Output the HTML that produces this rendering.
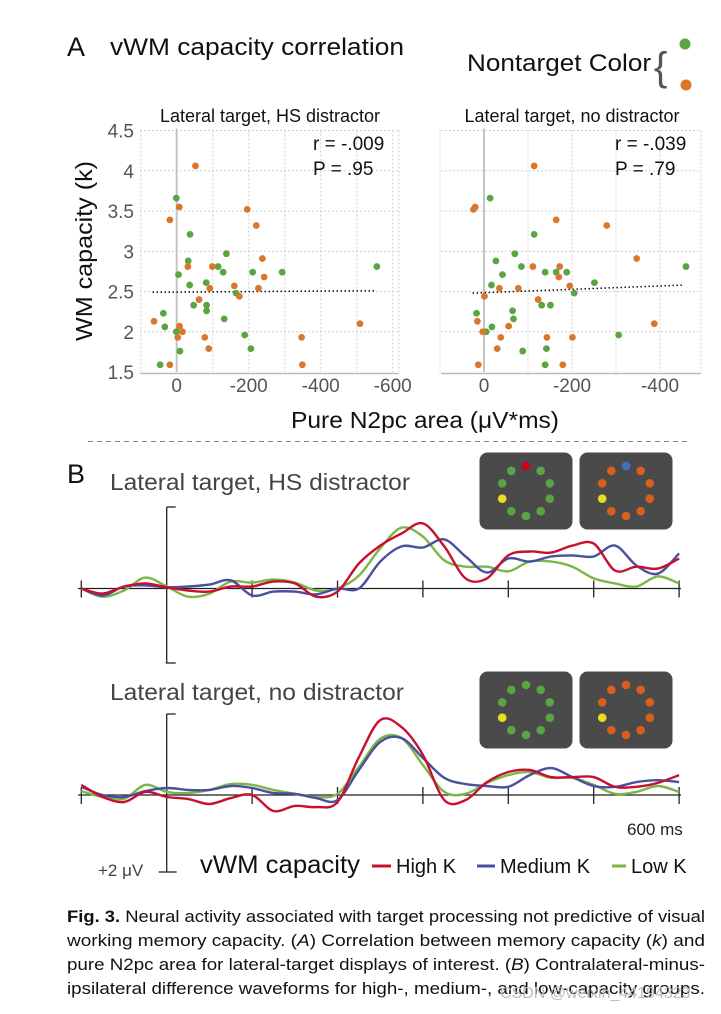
<!DOCTYPE html>
<html><head><meta charset="utf-8"><style>
html,body{margin:0;padding:0;background:#fff;}
body{width:721px;height:1009px;overflow:hidden;font-family:"Liberation Sans Narrow","Liberation Sans",sans-serif;}
svg text{font-family:"Liberation Sans Narrow","Liberation Sans",sans-serif;}
</style></head><body>
<svg id="fig" width="721" height="1009" viewBox="0 0 721 1009" xmlns="http://www.w3.org/2000/svg">
<text x="67" y="56" font-size="27" fill="#111">A</text>
<text x="110" y="55" font-size="24" fill="#111" textLength="294" lengthAdjust="spacingAndGlyphs">vWM capacity correlation</text>
<text x="467" y="71" font-size="24" fill="#111" textLength="184" lengthAdjust="spacingAndGlyphs">Nontarget Color</text>
<text x="654" y="80" font-size="40" fill="#555" font-family="Liberation Sans">{</text>
<circle cx="685" cy="44" r="5.5" fill="#5aa443"/>
<circle cx="686" cy="85" r="5.5" fill="#d9782d"/>
<g id="scatter"></g>
<text transform="translate(92,251) rotate(-90)" text-anchor="middle" font-size="23" fill="#111" textLength="180" lengthAdjust="spacingAndGlyphs">WM capacity (k)</text>
<text x="425" y="428" text-anchor="middle" font-size="23" fill="#111" textLength="268" lengthAdjust="spacingAndGlyphs">Pure N2pc area (μV*ms)</text>
<line x1="88" y1="441.5" x2="690" y2="441.5" stroke="#888" stroke-width="1" stroke-dasharray="5,4"/>
<text x="67" y="483" font-size="27" fill="#111">B</text>
<text x="110" y="490" font-size="23" fill="#444" textLength="300" lengthAdjust="spacingAndGlyphs">Lateral target, HS distractor</text>
<text x="110" y="700" font-size="23" fill="#444" textLength="294" lengthAdjust="spacingAndGlyphs">Lateral target, no distractor</text>
<g id="waves"></g>
<g id="icons"></g>
<text x="627" y="835" font-size="17" fill="#222">600 ms</text>
<text x="98" y="876" font-size="17" fill="#444">+2 μV</text>
<text x="200" y="873" font-size="25" fill="#111" textLength="160" lengthAdjust="spacingAndGlyphs">vWM capacity</text>
<line x1="372" y1="866" x2="391" y2="866" stroke="#c8102e" stroke-width="3"/>
<text x="396" y="873" font-size="20" fill="#111">High K</text>
<line x1="477" y1="866" x2="495" y2="866" stroke="#4a4fa0" stroke-width="3"/>
<text x="500" y="873" font-size="20" fill="#111">Medium K</text>
<line x1="612" y1="866" x2="626" y2="866" stroke="#7ab648" stroke-width="3"/>
<text x="631" y="873" font-size="20" fill="#111">Low K</text>
<g font-size="16.5" fill="#111">
<text x="67" y="922" textLength="638" lengthAdjust="spacingAndGlyphs"><tspan font-weight="bold">Fig. 3.</tspan>   Neural activity associated with target processing not predictive of visual</text>
<text x="67" y="946" textLength="638" lengthAdjust="spacingAndGlyphs">working memory capacity. (<tspan font-style="italic">A</tspan>) Correlation between memory capacity (<tspan font-style="italic">k</tspan>) and</text>
<text x="67" y="970" textLength="638" lengthAdjust="spacingAndGlyphs">pure N2pc area for lateral-target displays of interest. (<tspan font-style="italic">B</tspan>) Contralateral-minus-</text>
<text x="67" y="994" textLength="638" lengthAdjust="spacingAndGlyphs">ipsilateral difference waveforms for high-, medium-, and low-capacity groups.</text>
</g>
<text x="500" y="998" font-size="16" fill="#bbb" font-family="Liberation Sans">CSDN @weixin_44194323</text>
</svg>
<script>
// ---------- Scatter data ----------
const yTicks = [1.5, 2, 2.5, 3, 3.5, 4, 4.5];
const yTickLabels = ["1.5", "2", "2.5", "3", "3.5", "4", "4.5"];
const leftXTicks = [0, -200, -400, -600];
const rightXTicks = [0, -200, -400];
const leftOrangeX = [-52,-7,19,-196,-221,-31,-99,-238,-243,-160,-227,-92,-174,-62,63,-8,-16,-3,-78,-89,-347,-509,-349,19];
const leftOrangeY = [4.06,3.55,3.39,3.52,3.32,2.81,2.81,2.91,2.68,2.57,2.54,2.54,2.44,2.40,2.13,2.07,2.0,1.93,1.93,1.79,1.93,2.1,1.59,1.59];
const leftGreenX = [1,-37,-138,-32,-115,-129,-211,-293,-556,-5,-36,-82,-165,-47,-83,-83,37,-132,33,1,-189,-9,-206,46];
const leftGreenY = [3.66,3.21,2.97,2.88,2.81,2.74,2.74,2.74,2.81,2.71,2.58,2.61,2.48,2.33,2.33,2.26,2.23,2.16,2.06,2.0,1.96,1.76,1.79,1.59];
const rightOrangeX = [-114,24,20,-164,-279,-347,-111,-172,-170,-195,-35,-78,-1,-123,15,-56,3,-38,-143,-201,-30,-387,13,-179];
const rightOrangeY = [4.06,3.52,3.55,3.39,3.32,2.91,2.81,2.81,2.68,2.57,2.54,2.54,2.44,2.40,2.13,2.07,2.0,1.93,1.93,1.93,1.79,2.1,1.59,1.59];
const rightGreenX = [-14,-114,-70,-27,-85,-139,-164,-188,-459,-42,-17,-251,-205,-131,-151,-65,17,-67,-18,-5,-306,-88,-142,-139];
const rightGreenY = [3.66,3.21,2.97,2.88,2.81,2.74,2.74,2.74,2.81,2.71,2.58,2.61,2.48,2.33,2.33,2.26,2.23,2.16,2.06,2.0,1.96,1.76,1.79,1.59];
const leftFitX = [67, -550];
const leftFitY = [2.49, 2.51];
const rightFitX = [26, -454];
const rightFitY = [2.48, 2.58];
const stats = [["r = -.009", "P = .95"], ["r = -.039", "P = .79"]];

// ---------- Waveform data (μV, negative up) ----------
const times = [-100,-75,-50,-25,0,25,50,75,100,125,150,175,200,225,250,275,300,325,350,375,400,425,450,475,500,525,550,575,600];
const timeTicks = [-100,0,100,200,300,400,500,600];
const hsHighK = [0,.13,-.05,-.13,-.03,.05,.08,-.05,-.05,-.18,-.13,.21,.08,-.64,-1.10,-1.41,-1.67,-1.08,-.26,-.26,-.85,-.95,-.92,-1.10,-1.15,-.46,-.56,-.51,-.77];
const hsMediumK = [0,.18,-.05,-.08,-.03,-.05,-.10,-.21,.18,.08,.08,.15,0,0,-.69,-1.08,-1.05,-1.26,-.82,-.41,-.77,-.69,-.82,-.85,-.82,-1.10,-.59,-.38,-.90];
const hsLowK = [0,.21,.05,-.28,-.05,.21,.13,-.18,-.15,-.23,-.15,.05,0,-.33,-1.03,-1.56,-1.33,-.72,-.56,-.56,-.44,-.69,-.69,-.56,-.26,-.13,-.05,-.31,-.13];
const ndHighK = [-.26,.05,.18,-.08,.05,.10,.23,.08,0,.41,.28,.31,.18,-.97,-1.92,-1.74,-1.03,.13,.13,-.33,-.59,-.64,-.46,-.46,-.46,-.21,-.21,-.31,-.51];
const ndMediumK = [-.21,0,.05,-.10,-.18,-.13,-.13,-.23,-.18,-.05,-.03,.08,.13,-.64,-1.36,-1.46,-.95,-.44,-.28,-.23,-.21,-.51,-.69,-.46,-.23,-.21,-.33,-.38,-.33];
const ndLowK = [-.10,.05,.10,-.26,-.08,-.05,-.13,-.28,-.26,-.13,-.03,.05,-.03,-.72,-1.44,-1.46,-.77,-.08,-.03,-.31,-.51,-.59,-.44,-.44,-.26,-.03,-.08,-.23,-.08];

const NS = "http://www.w3.org/2000/svg";
function mk(tag, attrs, parent) {
  const e = document.createElementNS(NS, tag);
  for (const k in attrs) e.setAttribute(k, attrs[k]);
  parent.appendChild(e);
  return e;
}
const GREEN = "#5aa443", ORANGE = "#d9782d";
const yScale = v => 372 - (v - 1.5) * 80.5;

const scatter = document.getElementById("scatter");
const panels = [
  {x0: 176.7, k: 0.36, left: 140, right: 399, ticks: leftXTicks, gridFrom: 100, gridTo: -600,
   title: "Lateral target, HS distractor", titleX: 270, ox: leftOrangeX, oy: leftOrangeY, gx: leftGreenX, gy: leftGreenY,
   fx: leftFitX, fy: leftFitY, st: stats[0], name: "hs"},
  {x0: 484, k: 0.44, left: 441, right: 701, ticks: rightXTicks, gridFrom: 100, gridTo: -400,
   title: "Lateral target, no distractor", titleX: 572, ox: rightOrangeX, oy: rightOrangeY, gx: rightGreenX, gy: rightGreenY,
   fx: rightFitX, fy: rightFitY, st: stats[1], name: "nd"}
];
panels.forEach((p, pi) => {
  const xs = v => p.x0 - p.k * v;
  const g = mk("g", {}, scatter);
  
  
  const t = mk("text", {x: p.titleX, y: 122, "text-anchor": "middle", "font-size": 18, fill: "#111"}, g);
  t.textContent = p.title;
  
  
  yTicks.forEach((v, i) => {
    if (i === 0) return;
    const l = mk("line", {x1: p.left, x2: p.right, y1: yScale(v), y2: yScale(v), stroke: "#d0d0d0", "stroke-width": 1, "stroke-dasharray": "2,2"}, g);
    
    
  });
  for (let v = p.gridFrom; v >= p.gridTo; v -= 100) {
    const px = Math.min(xs(v), p.right);
    if (v === 0) continue;
    const l = mk("line", {x1: px, x2: px, y1: yScale(4.5), y2: yScale(1.5), stroke: "#d0d0d0", "stroke-width": 1, "stroke-dasharray": "2,2"}, g);
    
    
  }
  const rl = mk("line", {x1: p.right, x2: p.right, y1: yScale(4.5), y2: yScale(1.5), stroke: "#d0d0d0", "stroke-dasharray": "2,2"}, g);
  
  
  const zl = mk("line", {x1: xs(0), x2: xs(0), y1: yScale(4.5) - 2, y2: yScale(1.5), stroke: "#c4c4c4", "stroke-width": 2}, g);
  
  
  const ax = mk("line", {x1: p.left, x2: p.right, y1: yScale(1.5) + 1.5, y2: yScale(1.5) + 1.5, stroke: "#bbb", "stroke-width": 1.5}, g);
  
  
  p.ticks.forEach(v => {
    const tx = mk("text", {x: xs(v), y: 392, "text-anchor": "middle", "font-size": 19, fill: "#555", "font-family": "Liberation Sans"}, g);
    tx.textContent = v === 0 ? "0" : String(v);
    
    
  });
  if (pi === 0) {
    yTicks.forEach((v, i) => {
      const ty = mk("text", {x: 134, y: yScale(v) + 7, "text-anchor": "end", "font-size": 19, fill: "#555", "font-family": "Liberation Sans"}, g);
      ty.textContent = yTickLabels[i];
      
      
    });
  }
  const fit = mk("line", {x1: xs(p.fx[0]), y1: yScale(p.fy[0]), x2: xs(p.fx[1]), y2: yScale(p.fy[1]), stroke: "#111", "stroke-width": 1.5, "stroke-dasharray": "1.5,2.5"}, g);
  
  
  p.gx.forEach((v, i) => {
    const c = mk("circle", {cx: xs(v), cy: yScale(p.gy[i]), r: 3.4, fill: GREEN}, g);
    
    
  });
  p.ox.forEach((v, i) => {
    const c = mk("circle", {cx: xs(v), cy: yScale(p.oy[i]), r: 3.4, fill: ORANGE}, g);
    
    
  });
  p.st.forEach((s, i) => {
    const st = mk("text", {x: p.right - 86, y: 150 + i * 25, "font-size": 19, fill: "#111", "font-family": "Liberation Sans"}, g);
    st.textContent = s;
    
    
  });
});

// ---------- Waveforms ----------
const waves = document.getElementById("waves");
const tX = t => 166.7 + (t / 100) * 85.4;
const PX_PER_UV = 39;
function smoothPath(pts) {
  let d = "M" + pts[0][0].toFixed(1) + "," + pts[0][1].toFixed(1);
  for (let i = 0; i < pts.length - 1; i++) {
    const p0 = pts[Math.max(0, i - 1)], p1 = pts[i], p2 = pts[i + 1], p3 = pts[Math.min(pts.length - 1, i + 2)];
    const c1x = p1[0] + (p2[0] - p0[0]) / 6, c1y = p1[1] + (p2[1] - p0[1]) / 6;
    const c2x = p2[0] - (p3[0] - p1[0]) / 6, c2y = p2[1] - (p3[1] - p1[1]) / 6;
    d += " C" + c1x.toFixed(1) + "," + c1y.toFixed(1) + " " + c2x.toFixed(1) + "," + c2y.toFixed(1) + " " + p2[0].toFixed(1) + "," + p2[1].toFixed(1);
  }
  return d;
}
const wpanels = [
  {base: 588.5, top: 507, bottom: 663, series: [[hsLowK, "#7ab648", "low-k"], [hsMediumK, "#4a4fa0", "medium-k"], [hsHighK, "#c8102e", "high-k"]], name: "hs"},
  {base: 795, top: 714, bottom: 872, series: [[ndLowK, "#7ab648", "low-k"], [ndMediumK, "#4a4fa0", "medium-k"], [ndHighK, "#c8102e", "high-k"]], name: "nd"}
];
wpanels.forEach(w => {
  const g = mk("g", {}, waves);
  
  
  const ax = mk("line", {x1: 78, x2: 681, y1: w.base, y2: w.base, stroke: "#222", "stroke-width": 1.3}, g);
  
  
  timeTicks.forEach(t => {
    if (t === 0) return;
    const tk = mk("line", {x1: tX(t), x2: tX(t), y1: w.base - 8, y2: w.base + 9, stroke: "#222", "stroke-width": 1.3}, g);
    
    
  });
  const va = mk("line", {x1: tX(0), x2: tX(0), y1: w.top, y2: w.bottom, stroke: "#222", "stroke-width": 1.3}, g);
  
  
  const tt = mk("line", {x1: tX(0), x2: tX(0) + 9, y1: w.top, y2: w.top, stroke: "#222", "stroke-width": 1.3}, g);
  
  
  const bc = w.name === "hs" ? [tX(0) - 1, tX(0) + 9] : [tX(0) - 8, tX(0) + 10];
  const bt = mk("line", {x1: bc[0], x2: bc[1], y1: w.bottom, y2: w.bottom, stroke: "#222", "stroke-width": 1.3}, g);
  
  
  w.series.forEach(s => {
    const pts = times.map((t, i) => [tX(t), w.base - (-s[0][i]) * PX_PER_UV]);
    const path = mk("path", {d: smoothPath(pts), fill: "none", stroke: s[1], "stroke-width": 2.4, "stroke-linejoin": "round"}, g);
    
    
  });
});

// ---------- Stimulus icons ----------
const icons = document.getElementById("icons");
const iconDefs = [
  {x: 479.5, y: 452.5, ring: GREEN, top: "#d0021b", name: "hs-green-display"},
  {x: 579.5, y: 452.5, ring: "#d8601c", top: "#3f73c0", name: "hs-orange-display"},
  {x: 479.5, y: 671.5, ring: GREEN, top: GREEN, name: "nd-green-display"},
  {x: 579.5, y: 671.5, ring: "#d8601c", top: "#d8601c", name: "nd-orange-display"}
];
iconDefs.forEach(ic => {
  const g = mk("g", {}, icons);
  
  
  const r = mk("rect", {x: ic.x, y: ic.y, width: 93, height: 77, rx: 8, fill: "#4a4a4a"}, g);
  
  
  const cx = ic.x + 46.5, cy = ic.y + 38.5;
  for (let i = 0; i < 10; i++) {
    const a = (-90 + 36 * i) * Math.PI / 180;
    let col = ic.ring;
    if (i === 0) col = ic.top;
    if (i === 7) col = "#e6de1e";
    const c = mk("circle", {cx: cx + 25 * Math.cos(a), cy: cy + 25 * Math.sin(a), r: 4.3, fill: col}, g);
    
    
  }
});
</script>
</body></html>
